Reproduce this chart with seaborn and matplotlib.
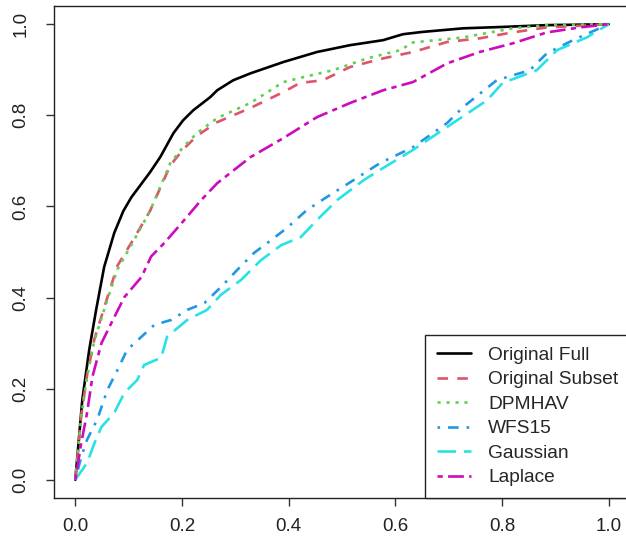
import matplotlib
matplotlib.use("Agg")
import matplotlib.pyplot as plt
import seaborn as sns
import pandas as pd

# ROC curve points
full_x = [0, 0.013, 0.026, 0.039, 0.054, 0.073, 0.09, 0.105, 0.14, 0.159, 0.184, 0.202, 0.221, 0.253,
          0.266, 0.296, 0.328, 0.39, 0.453, 0.515, 0.577, 0.614, 0.65, 0.727, 0.8, 0.884, 1.0]
full_y = [0, 0.175, 0.285, 0.373, 0.467, 0.542, 0.59, 0.62, 0.675, 0.708, 0.761, 0.789, 0.811, 0.84,
          0.855, 0.877, 0.892, 0.917, 0.939, 0.954, 0.965, 0.978, 0.983, 0.991, 0.994, 0.998, 1.0]

subset_x = [0, 0.011, 0.022, 0.036, 0.06, 0.079, 0.11, 0.14, 0.178, 0.202, 0.228, 0.266, 0.328, 0.39,
            0.421, 0.464, 0.515, 0.577, 0.633, 0.697, 0.758, 0.82, 0.884, 1.0]
subset_y = [0, 0.14, 0.23, 0.31, 0.40, 0.47, 0.53, 0.59, 0.69, 0.725, 0.755, 0.785, 0.816, 0.851,
            0.871, 0.877, 0.906, 0.925, 0.939, 0.961, 0.969, 0.982, 0.993, 1.0]

dpmhav_x = [0, 0.011, 0.022, 0.036, 0.06, 0.079, 0.11, 0.14, 0.178, 0.202, 0.228, 0.266, 0.328, 0.39,
            0.421, 0.483, 0.547, 0.609, 0.633, 0.727, 0.82, 0.884, 1.0]
dpmhav_y = [0, 0.138, 0.226, 0.307, 0.395, 0.462, 0.526, 0.59, 0.695, 0.73, 0.761, 0.794, 0.827, 0.873,
            0.882, 0.899, 0.925, 0.943, 0.96, 0.971, 0.991, 0.998, 1.0]

wfs_x = [0, 0.011, 0.022, 0.041, 0.06, 0.079, 0.097, 0.124, 0.148, 0.18, 0.21, 0.242, 0.273, 0.303,
         0.335, 0.367, 0.397, 0.434, 0.472, 0.522, 0.571, 0.633, 0.697, 0.727, 0.79, 0.852, 0.884, 0.933, 1.0]
wfs_y = [0, 0.05, 0.088, 0.132, 0.197, 0.241, 0.285, 0.314, 0.34, 0.351, 0.373, 0.388, 0.423, 0.46,
         0.498, 0.526, 0.553, 0.592, 0.621, 0.658, 0.695, 0.73, 0.783, 0.818, 0.877, 0.899, 0.936, 0.965, 1.0]

gauss_x = [0, 0.022, 0.036, 0.049, 0.073, 0.092, 0.116, 0.129, 0.161, 0.172, 0.21, 0.247, 0.273, 0.311,
           0.348, 0.386, 0.423, 0.453, 0.491, 0.541, 0.571, 0.633, 0.708, 0.772, 0.801, 0.865, 0.903, 0.959, 1.0]
gauss_y = [0, 0.037, 0.081, 0.116, 0.147, 0.191, 0.219, 0.252, 0.268, 0.314, 0.351, 0.373, 0.406, 0.439,
           0.482, 0.515, 0.533, 0.57, 0.614, 0.658, 0.68, 0.724, 0.783, 0.833, 0.871, 0.899, 0.943, 0.971, 1.0]

laplace_x = [0, 0.011, 0.022, 0.032, 0.049, 0.073, 0.092, 0.124, 0.142, 0.167, 0.199, 0.236, 0.266, 0.328,
             0.39, 0.453, 0.515, 0.577, 0.633, 0.697, 0.758, 0.82, 0.884, 0.946, 1.0]
laplace_y = [0, 0.08, 0.147, 0.226, 0.30, 0.357, 0.401, 0.445, 0.49, 0.52, 0.563, 0.614, 0.651, 0.708,
             0.75, 0.796, 0.827, 0.855, 0.873, 0.914, 0.939, 0.958, 0.982, 0.993, 1.0]

methods = ["Original Full", "Original Subset", "DPMHAV", "WFS15", "Gaussian", "Laplace"]
curves = [(full_x, full_y), (subset_x, subset_y), (dpmhav_x, dpmhav_y),
          (wfs_x, wfs_y), (gauss_x, gauss_y), (laplace_x, laplace_y)]

rows = []
for m, (xs, ys) in zip(methods, curves):
    for a, b in zip(xs, ys):
        rows.append({"fpr": a, "tpr": b, "method": m})
df = pd.DataFrame(rows)

colores = {"Original Full": "black", "Original Subset": "#DF536B", "DPMHAV": "#61D04F",
           "WFS15": "#2297E6", "Gaussian": "#28E2E5", "Laplace": "#CD0BBC"}
trazos = {"Original Full": "", "Original Subset": (4, 3.5), "DPMHAV": (1.2, 2.2),
          "WFS15": (1, 3, 4, 3), "Gaussian": (7, 3), "Laplace": (2, 2, 6, 2)}

sns.set_style("white")
plt.rcParams['font.family'] = ['Liberation Sans', 'DejaVu Sans']

fig = plt.figure(figsize=(6.26, 5.44), dpi=100)
ax = fig.add_axes([54 / 626, 46 / 544, 576 / 626, 492 / 544])

sns.lineplot(data=df, x="fpr", y="tpr", hue="method", style="method", hue_order=methods,
             style_order=methods, palette=colores, dashes=trazos, linewidth=1.9,
             estimator=None, sort=False, ax=ax)

ax.set_xlim(-0.04, 1.04)
ax.set_ylim(-0.04, 1.04)
ticks = [0.0, 0.2, 0.4, 0.6, 0.8, 1.0]
ax.set_xticks(ticks)
ax.set_yticks(ticks)
ax.set_xticklabels([f"{t:.1f}" for t in ticks])
ax.set_yticklabels([f"{t:.1f}" for t in ticks], rotation=90, va="center")
ax.set_xlabel("")
ax.set_ylabel("")
ax.tick_params(axis="both", direction="out", length=5.5, width=1, color="#333333",
               labelsize=13.5, labelcolor="#222222", bottom=True, left=True)
ax.tick_params(axis="x", pad=9)
ax.tick_params(axis="y", pad=12)
for s in ax.spines.values():
    s.set_color("#222222")
    s.set_linewidth(1)
    s.set_visible(True)

leg = ax.legend(loc="lower right", bbox_to_anchor=(1, 0), borderaxespad=0, fontsize=13.8,
                frameon=True, fancybox=False, framealpha=1, edgecolor="#222222",
                handlelength=1.8, handletextpad=0.9, labelspacing=0.37, borderpad=0.6)
leg.get_frame().set_linewidth(1)

plt.savefig("out.png", dpi=100)
